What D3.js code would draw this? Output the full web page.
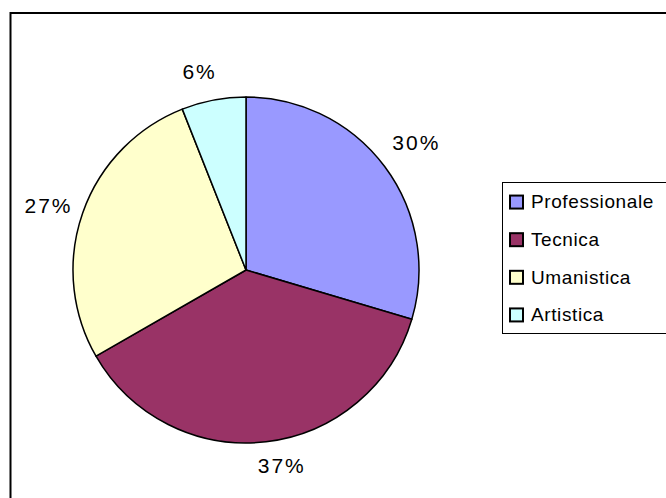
<!DOCTYPE html>
<html>
<head>
<meta charset="utf-8">
<script src="https://cdn.jsdelivr.net/npm/d3@7"></script>
<style>
  html, body { margin: 0; padding: 0; background: #fff; }
  svg { display: block; }
  text { font-family: "Liberation Sans", Arial, sans-serif; fill: #000; }
</style>
</head>
<body>
<svg id="chart" width="666" height="498"></svg>
<script>
const categories = ["Professionale", "Tecnica", "Umanistica", "Artistica"];
const values = [29.6, 37.1, 27.3, 6.0];
const colors = ["#9999FF", "#993366", "#FFFFCC", "#CCFFFF"];

const svg = d3.select("#chart");

// outer frame (extends beyond right/bottom edge)
svg.append("rect")
  .attr("x", 10.5).attr("y", 13)
  .attr("width", 700).attr("height", 520)
  .attr("fill", "#fff").attr("stroke", "#000").attr("stroke-width", 2);

const cx = 246, cy = 270, R = 173;
const total = d3.sum(values);
const data = categories.map((c, i) => ({ name: c, value: values[i], color: colors[i] }));

const pie = d3.pie().value(d => d.value).sort(null);
const arc = d3.arc().innerRadius(0).outerRadius(R);
const labelArc = d3.arc().innerRadius(205).outerRadius(205);

const g = svg.append("g").attr("transform", `translate(${cx},${cy})`);
const arcs = pie(data);

g.selectAll("path.slice")
  .data(arcs)
  .join("path")
  .attr("class", "slice")
  .attr("d", arc)
  .attr("fill", d => d.data.color)
  .attr("stroke", "#000")
  .attr("stroke-width", 1.5)
  .attr("stroke-linejoin", "round");

// small layout nudges mimicking the original label placement
const labelNudge = [[6, -5], [12, -8], [-4, 3], [-8, 3]];

g.selectAll("text.lbl")
  .data(arcs)
  .join("text")
  .attr("class", "lbl")
  .attr("transform", (d, i) => {
    const [x, y] = labelArc.centroid(d);
    return `translate(${x + labelNudge[i][0]},${y + labelNudge[i][1]})`;
  })
  .attr("text-anchor", "middle")
  .attr("dy", "0.36em")
  .style("font-size", "21px")
  .style("letter-spacing", "2px")
  .text(d => Math.round(d.data.value / total * 100) + "%");

// legend
const legend = svg.append("g");
legend.append("rect")
  .attr("x", 502.5).attr("y", 182.5)
  .attr("width", 200).attr("height", 151)
  .attr("fill", "#fff").attr("stroke", "#000").attr("stroke-width", 1);

const legY = d3.scaleBand().domain(categories).range([182, 334]).paddingInner(0).paddingOuter(0.02);

const items = legend.selectAll("g.item")
  .data(data)
  .join("g")
  .attr("class", "item")
  .attr("transform", d => `translate(0,${legY(d.name) + legY.bandwidth() / 2})`);

items.append("rect")
  .attr("x", 510).attr("y", -6)
  .attr("width", 13).attr("height", 13)
  .attr("fill", d => d.color)
  .attr("stroke", "#000").attr("stroke-width", 2);

items.append("text")
  .attr("x", 531).attr("y", 0)
  .attr("dy", "0.36em")
  .style("font-size", "19px")
  .style("letter-spacing", "0.6px")
  .text(d => d.name);
</script>
</body>
</html>
